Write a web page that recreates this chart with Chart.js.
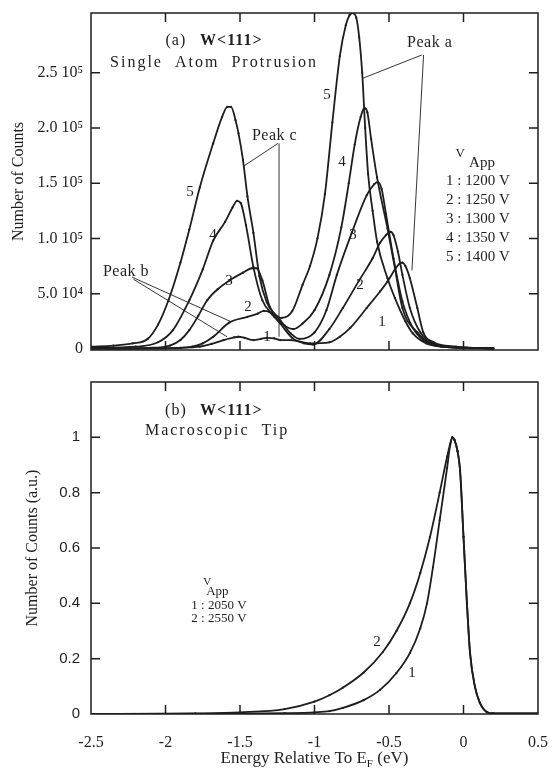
<!DOCTYPE html>
<html lang="en">
<head>
<meta charset="UTF-8" />
<title>W&lt;111&gt; energy distributions</title>
<script src="https://cdn.jsdelivr.net/npm/chart.js"></script>
<style>
  html, body { margin: 0; padding: 0; background: #fff; }
  #wrap { position: relative; width: 553px; height: 775px; }
  #topBox { position: absolute; left: 0; top: 0; width: 553px; height: 372px; }
  #botBox { position: absolute; left: 0; top: 372px; width: 553px; height: 403px; }
</style>
</head>
<body>
<div id="wrap">
  <div id="topBox"><canvas id="topChart"></canvas></div>
  <div id="botBox"><canvas id="botChart"></canvas></div>
</div>
<script>
// ---- (a) single atom protrusion, counts in thousands ----
const energyA1 = [-2.5, -1.9, -1.77, -1.69, -1.61, -1.54, -1.51, -1.47, -1.41, -1.36, -1.32, -1.27, -1.23, -1.16, -1.03, -0.9, -0.83, -0.76, -0.65, -0.56, -0.51, -0.46, -0.43, -0.41, -0.39, -0.36, -0.31, -0.27, -0.2, -0.05, 0.2];
const countsA1 = [0.2, 1, 2, 4.5, 8, 10.5, 11, 10, 8, 9, 10, 9.5, 8, 8, 5, 6, 11, 19, 37, 52, 61, 72, 77, 78, 75, 64, 37, 15, 6, 2, 0.3];

const energyA2 = [-2.5, -1.9, -1.82, -1.75, -1.68, -1.57, -1.45, -1.38, -1.34, -1.31, -1.27, -1.23, -1.15, -1.07, -1.01, -0.9, -0.81, -0.7, -0.61, -0.56, -0.52, -0.49, -0.47, -0.44, -0.41, -0.36, -0.29, -0.2, -0.1, 0.2];
const countsA2 = [0.3, 1, 2, 5, 11, 24, 29, 32, 34.5, 34, 29, 23, 10, 5, 4, 18, 37, 62, 82, 96, 103, 106, 103, 88, 67, 37, 15, 5, 1.5, 0.3];

const energyA3 = [-2.5, -2.1, -1.97, -1.9, -1.84, -1.78, -1.72, -1.65, -1.57, -1.48, -1.42, -1.39, -1.35, -1.3, -1.23, -1.16, -1.1, -1.0, -0.92, -0.85, -0.75, -0.65, -0.6, -0.575, -0.55, -0.52, -0.47, -0.41, -0.34, -0.27, -0.15, 0.2];
const countsA3 = [0.5, 1, 3, 8, 17, 30, 44, 54, 62, 69, 73, 73, 62, 38, 26, 14, 9, 15, 35, 67, 105, 139, 149, 151, 145, 122, 82, 43, 19, 8, 2, 0.5];

const energyA4 = [-2.5, -2.2, -2.05, -1.95, -1.84, -1.75, -1.68, -1.6, -1.55, -1.52, -1.495, -1.46, -1.41, -1.35, -1.28, -1.2, -1.14, -1.08, -1.0, -0.9, -0.82, -0.77, -0.73, -0.69, -0.665, -0.645, -0.62, -0.58, -0.51, -0.46, -0.41, -0.31, -0.22, -0.1, 0.2];
const countsA4 = [1, 2, 6, 17, 44, 72, 98, 115, 128, 134, 132, 112, 74, 44, 31, 21, 18, 23, 35, 67, 110, 150, 185, 210, 218, 214, 190, 155, 109, 73, 37, 15, 5, 2, 0.5];

const energyA5 = [-2.5, -2.35, -2.22, -2.12, -2.05, -1.98, -1.9, -1.84, -1.77, -1.68, -1.62, -1.585, -1.56, -1.53, -1.51, -1.48, -1.45, -1.41, -1.37, -1.32, -1.27, -1.22, -1.15, -1.08, -1.03, -0.98, -0.93, -0.88, -0.83, -0.79, -0.765, -0.745, -0.72, -0.7, -0.68, -0.66, -0.64, -0.61, -0.58, -0.51, -0.46, -0.39, -0.34, -0.25, -0.14, 0.0, 0.2];
const countsA5 = [2, 3, 5, 9, 22, 44, 78, 108, 146, 186, 210, 219, 219, 207, 195, 171, 138, 105, 66, 42, 32, 28, 34, 58, 75, 100, 140, 205, 265, 293, 302, 304, 300, 282, 250, 200, 158, 125, 97, 64, 46, 25, 14, 5, 2, 1, 0.5];

// ---- (b) macroscopic tip, normalised counts ----
const energyB1 = [-2.5, -1.5, -1.2, -1.0, -0.9, -0.81, -0.67, -0.56, -0.45, -0.36, -0.29, -0.245, -0.205, -0.16, -0.11, -0.09, -0.075, -0.06, -0.04, -0.023, 0.0, 0.023, 0.044, 0.077, 0.11, 0.156, 0.2, 0.5];
const countsB1 = [0, 0.001, 0.003, 0.006, 0.01, 0.022, 0.05, 0.087, 0.148, 0.22, 0.31, 0.40, 0.53, 0.70, 0.89, 0.97, 1.0, 0.99, 0.95, 0.88, 0.64, 0.40, 0.22, 0.098, 0.04, 0.007, 0.002, 0.002];

const energyB2 = [-2.5, -2.0, -1.8, -1.5, -1.2, -1.0, -0.9, -0.81, -0.67, -0.54, -0.45, -0.36, -0.29, -0.225, -0.16, -0.11, -0.09, -0.075, -0.06, -0.04, -0.023, 0.0, 0.023, 0.044, 0.077, 0.11, 0.156, 0.2, 0.5];
const countsB2 = [0, 0.001, 0.002, 0.006, 0.018, 0.045, 0.068, 0.095, 0.15, 0.225, 0.30, 0.40, 0.51, 0.64, 0.80, 0.93, 0.975, 1.0, 0.99, 0.95, 0.88, 0.64, 0.40, 0.22, 0.098, 0.04, 0.007, 0.002, 0.002];

// ---- axes ----
const energyTicks = [-2.5, -2, -1.5, -1, -0.5, 0, 0.5];
const energyTickLabels = ['-2.5', '-2', '-1.5', '-1', '-0.5', '0', '0.5'];
const countTicks = [0, 50000, 100000, 150000, 200000, 250000];
const countTickLabels = ['0', '5.0 10\u2074', '1.0 10\u2075', '1.5 10\u2075', '2.0 10\u2075', '2.5 10\u2075'];
const normTicks = [0, 0.2, 0.4, 0.6, 0.8, 1];
const normTickLabels = ['0', '0.2', '0.4', '0.6', '0.8', '1'];

const voltsA = ['1 : 1200 V', '2 : 1250 V', '3 : 1300 V', '4 : 1350 V', '5 : 1400 V'];
const voltsB = ['1 : 2050 V', '2 : 2550 V'];

const ink = '#1e1e1e';
const serif = '"Liberation Serif", "DejaVu Serif", serif';
const sans = '"Liberation Sans", Arial, sans-serif';
const tickLen = 9;

function series(xs, ys, k) {
  return {
    data: xs.map((x, i) => ({ x: x, y: ys[i] * k })),
    borderColor: ink,
    borderWidth: 1.8,
    pointRadius: 1.1,
    pointBorderWidth: 0,
    pointBackgroundColor: ink,
    cubicInterpolationMode: 'monotone',
    fill: false
  };
}

function put(ctx, text, px, py, size, opts) {
  opts = opts || {};
  ctx.save();
  ctx.font = (opts.bold ? 'bold ' : '') + size + 'px ' + (opts.family || serif);
  ctx.fillStyle = ink;
  ctx.textAlign = opts.align || 'left';
  ctx.textBaseline = 'middle';
  if (opts.spacing) ctx.letterSpacing = opts.spacing + 'px';
  ctx.fillText(text, px, py);
  const w = ctx.measureText(text).width;
  ctx.restore();
  return w;
}

function line(ctx, x0, y0, x1, y1) {
  ctx.save();
  ctx.strokeStyle = ink;
  ctx.lineWidth = 0.9;
  ctx.beginPath();
  ctx.moveTo(x0, y0);
  ctx.lineTo(x1, y1);
  ctx.stroke();
  ctx.restore();
}

// box round the plot with inward ticks on all four sides
function framePlugin(xMarks, yMarks) {
  return {
    id: 'frame',
    afterDatasetsDraw(chart) {
      const { ctx, chartArea: a, scales: { x, y } } = chart;
      ctx.save();
      ctx.strokeStyle = ink;
      ctx.lineWidth = 1.5;
      ctx.strokeRect(a.left, a.top, a.right - a.left, a.bottom - a.top);
      ctx.beginPath();
      xMarks.forEach(v => {
        const p = x.getPixelForValue(v);
        ctx.moveTo(p, a.top); ctx.lineTo(p, a.top + tickLen);
        ctx.moveTo(p, a.bottom); ctx.lineTo(p, a.bottom - tickLen);
      });
      yMarks.forEach(v => {
        const p = y.getPixelForValue(v);
        ctx.moveTo(a.left, p); ctx.lineTo(a.left + tickLen, p);
        ctx.moveTo(a.right, p); ctx.lineTo(a.right - tickLen, p);
      });
      ctx.stroke();
      ctx.restore();
    }
  };
}

const topNotes = {
  id: 'topNotes',
  afterDatasetsDraw(chart) {
    const { ctx, scales: { x, y } } = chart;
    const X = v => x.getPixelForValue(v), Y = v => y.getPixelForValue(v);

    put(ctx, '(a)', X(-2.0), Y(279000), 16, { spacing: 1 });
    put(ctx, 'W<111>', X(-1.768), Y(279000), 16, { bold: true, spacing: 1 });
    put(ctx, 'Single  Atom  Protrusion', X(-2.372), Y(259000), 16, { spacing: 2 });

    put(ctx, 'Peak c', X(-1.42), Y(193000), 16, { spacing: 0.5 });
    line(ctx, X(-1.245), Y(186000), X(-1.48), Y(165000));
    line(ctx, X(-1.238), Y(186000), X(-1.238), Y(11000));

    put(ctx, 'Peak a', X(-0.379), Y(277000), 16, { spacing: 0.5 });
    line(ctx, X(-0.28), Y(266000), X(-0.675), Y(245000));
    line(ctx, X(-0.268), Y(266000), X(-0.346), Y(71000));

    put(ctx, 'Peak b', X(-2.42), Y(70000), 16, { spacing: 0.5 });
    line(ctx, X(-2.225), Y(65000), X(-1.567), Y(25000));
    line(ctx, X(-2.215), Y(63000), X(-1.587), Y(11000));

    // curve numbers
    [['5', -1.836, 142000], ['4', -1.681, 103000], ['3', -1.574, 61000], ['2', -1.446, 38000], ['1', -1.319, 11000],
     ['5', -0.916, 230000], ['4', -0.815, 169000], ['3', -0.742, 103000], ['2', -0.695, 58000], ['1', -0.547, 24000]]
      .forEach(n => put(ctx, n[0], X(n[1]), Y(n[2]), 15, { align: 'center' }));

    // applied voltage key
    put(ctx, 'V', X(-0.023), Y(177000), 13, { align: 'center' });
    put(ctx, 'App', X(0.124), Y(168000), 15, { align: 'center' });
    voltsA.forEach((s, i) => put(ctx, s, X(0.097), Y(152000 - i * 17200), 15, { align: 'center' }));
  }
};

const botNotes = {
  id: 'botNotes',
  afterDatasetsDraw(chart) {
    const { ctx, chartArea: a, scales: { x, y } } = chart;
    const X = v => x.getPixelForValue(v), Y = v => y.getPixelForValue(v);

    put(ctx, '(b)', X(-2.003), Y(1.097), 16, { spacing: 1 });
    put(ctx, 'W<111>', X(-1.768), Y(1.097), 16, { bold: true, spacing: 1 });
    put(ctx, 'Macroscopic  Tip', X(-2.138), Y(1.025), 16, { spacing: 2 });

    put(ctx, 'V', X(-1.72), Y(0.475), 11, { align: 'center' });
    put(ctx, 'App', X(-1.652), Y(0.443), 13, { align: 'center' });
    voltsB.forEach((s, i) => put(ctx, s, X(-1.641), Y(0.393 - i * 0.047), 13, { align: 'center' }));

    put(ctx, '2', X(-0.581), Y(0.26), 15, { align: 'center' });
    put(ctx, '1', X(-0.346), Y(0.148), 15, { align: 'center' });

    // x-axis title with subscript F
    const parts = ['Energy Relative To E', 'F', ' (eV)'];
    ctx.save();
    ctx.font = '17px ' + serif;
    const w0 = ctx.measureText(parts[0]).width, w2 = ctx.measureText(parts[2]).width;
    ctx.font = '11px ' + serif;
    const w1 = ctx.measureText(parts[1]).width;
    ctx.restore();
    const cx = (a.left + a.right) / 2, ty = 387;
    const sx = cx - (w0 + w1 + w2) / 2;
    put(ctx, parts[0], sx, ty, 17);
    put(ctx, parts[1], sx + w0, ty + 5, 11);
    put(ctx, parts[2], sx + w0 + w1, ty, 17);
  }
};

Chart.defaults.color = ink;
Chart.defaults.font.family = serif;

new Chart(document.getElementById('topChart'), {
  type: 'line',
  data: {
    datasets: [
      series(energyA1, countsA1, 1000),
      series(energyA2, countsA2, 1000),
      series(energyA3, countsA3, 1000),
      series(energyA4, countsA4, 1000),
      series(energyA5, countsA5, 1000)
    ]
  },
  options: {
    responsive: true,
    maintainAspectRatio: false,
    devicePixelRatio: 1,
    animation: false,
    events: [],
    layout: { padding: { left: 0, right: 15, top: 13, bottom: 22 } },
    plugins: { legend: { display: false }, tooltip: { enabled: false } },
    scales: {
      x: { type: 'linear', min: -2.5, max: 0.5, display: false },
      y: {
        type: 'linear', min: -1000, max: 304000,
        afterBuildTicks: s => { s.ticks = countTicks.map(v => ({ value: v })); },
        afterFit: s => { s.width = 91; s.paddingTop = 0; s.paddingBottom = 0; },
        grid: { display: false, drawTicks: false },
        border: { display: false },
        ticks: { padding: 8, font: { family: serif, size: 16 }, callback: (v, i) => countTickLabels[i] },
        title: { display: true, text: 'Number of Counts', font: { family: serif, size: 16 }, padding: { top: 9 } }
      }
    }
  },
  plugins: [framePlugin([-2, -1.5, -1, -0.5, 0], countTicks.slice(1)), topNotes]
});

new Chart(document.getElementById('botChart'), {
  type: 'line',
  data: {
    datasets: [
      series(energyB1, countsB1, 1),
      series(energyB2, countsB2, 1)
    ]
  },
  options: {
    responsive: true,
    maintainAspectRatio: false,
    devicePixelRatio: 1,
    animation: false,
    events: [],
    layout: { padding: { left: 0, right: 15, top: 10, bottom: 0 } },
    plugins: { legend: { display: false }, tooltip: { enabled: false } },
    scales: {
      x: {
        type: 'linear', min: -2.5, max: 0.5,
        afterBuildTicks: s => { s.ticks = energyTicks.map(v => ({ value: v })); },
        afterFit: s => { s.height = 61; s.paddingLeft = 0; s.paddingRight = 0; },
        grid: { display: false, drawTicks: false },
        border: { display: false },
        ticks: { padding: 19, maxRotation: 0, autoSkip: false, font: { family: serif, size: 16 }, callback: (v, i) => energyTickLabels[i] }
      },
      y: {
        type: 'linear', min: 0, max: 1.2,
        afterBuildTicks: s => { s.ticks = normTicks.map(v => ({ value: v })); },
        afterFit: s => { s.width = 91; s.paddingTop = 0; s.paddingBottom = 0; },
        grid: { display: false, drawTicks: false },
        border: { display: false },
        ticks: { padding: 11, font: { family: sans, size: 15 }, callback: (v, i) => normTickLabels[i] },
        title: { display: true, text: 'Number of Counts (a.u.)', font: { family: serif, size: 16 }, padding: { top: 23 } }
      }
    }
  },
  plugins: [framePlugin([-2, -1.5, -1, -0.5, 0], normTicks.slice(1)), botNotes]
});
</script>
</body>
</html>
